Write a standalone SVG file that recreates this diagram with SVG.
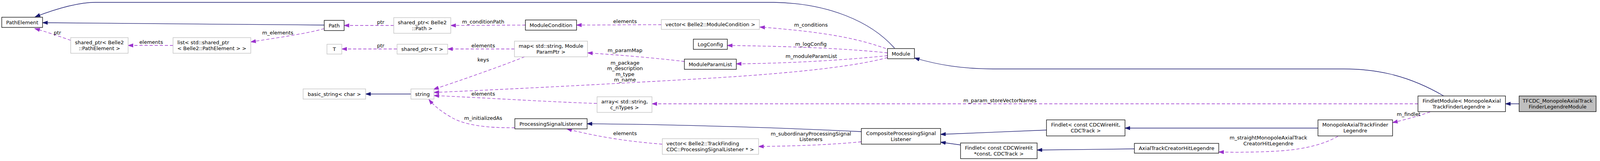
<svg xmlns="http://www.w3.org/2000/svg" width="4163" height="411" viewBox="0 0 4163 411">
<style>
text{font-family:"DejaVu Sans","Liberation Sans",sans-serif;font-size:13px;fill:#000}
.node text{text-anchor:middle}
.node text.l{text-anchor:start}
.b{fill:#fff;stroke:#000;stroke-width:1.3}
.g{fill:#fff;stroke:#bfbfbf;stroke-width:1.3}
.sel{fill:#bfbfbf;stroke:#000;stroke-width:1.3}
.inh{fill:none;stroke:#191970;stroke-width:1.3;marker-end:url(#ab)}
.use{fill:none;stroke:#9a32cd;stroke-width:1.3;stroke-dasharray:8,5;marker-end:url(#ap)}
.lbl{text-anchor:middle}
</style>
<defs>
<marker id="ab" markerUnits="userSpaceOnUse" markerWidth="14" markerHeight="10" viewBox="0 0 14 10" refX="13" refY="5" orient="auto">
<path d="M0,0.5 L13,5 L0,9.5 z" fill="#191970" stroke="#191970" stroke-width="1"/>
</marker>
<marker id="ap" markerUnits="userSpaceOnUse" markerWidth="14" markerHeight="10" viewBox="0 0 14 10" refX="13" refY="5" orient="auto">
<path d="M0,0.5 L13,5 L0,9.5 z" fill="#9a32cd" stroke="#9a32cd" stroke-width="1"/>
</marker>
</defs>
<rect width="4163" height="411" fill="#fff"/>
<g id="edges">
<path class="inh" d="M830,64 C600,63 300,58 109,58"/>
<path class="inh" d="M2290,123 C2230,55 2120,8 1980,6 L245,6 C205,6 150,20 90,43"/>
<path class="use" d="M181,103 C150,92 115,80 89,73"/>
<text class="lbl" x="147" y="87.5">ptr</text>
<path class="use" d="M443,116 L328,116"/>
<text class="lbl" x="387" y="112">elements</text>
<path class="use" d="M830,73 C790,85 700,98 642,107"/>
<text class="lbl" x="711" y="87.5">m_elements</text>
<path class="use" d="M1008,65 L881,65"/>
<text class="lbl" x="974.5" y="61">ptr</text>
<path class="use" d="M1345,64 L1154,65"/>
<text class="lbl" x="1237" y="60">m_conditionPath</text>
<path class="use" d="M1693,63 L1476,64"/>
<text class="lbl" x="1600" y="59">elements</text>
<path class="use" d="M2268,124 C2200,100 2120,82 1945,69"/>
<text class="lbl" x="2076" y="68">m_conditions</text>
<path class="use" d="M2272,135 C2150,122 2000,118 1862,116"/>
<text class="lbl" x="2076" y="116.5">m_logConfig</text>
<path class="use" d="M2272,142 C2150,155 2000,162 1885,163"/>
<text class="lbl" x="2077" y="147.5">m_moduleParamList</text>
<path class="use" d="M1752,157 C1680,148 1580,140 1504,135"/>
<text class="lbl" x="1600" y="132.5">m_paramMap</text>
<path class="use" d="M2272,147 C2180,172 2000,190 1757,203 C1500,218 1250,230 1111,236"/>
<text class="lbl" x="1600" y="164.5">m_package</text>
<text class="lbl" x="1600" y="179">m_description</text>
<text class="lbl" x="1600" y="193.5">m_type</text>
<text class="lbl" x="1600" y="208">m_name</text>
<path class="use" d="M1343,145 C1280,170 1180,205 1110,228"/>
<text class="lbl" x="1237" y="156.5">keys</text>
<path class="use" d="M1528,264 C1400,260 1250,250 1111,244"/>
<text class="lbl" x="1237" y="243.5">elements</text>
<path class="use" d="M1318,326 C1240,327 1190,318 1160,302 C1140,291 1115,275 1098,254"/>
<text class="lbl" x="1237" y="305.5">m_initializedAs</text>
<path class="use" d="M1016,125 L875,125"/>
<text class="lbl" x="974.5" y="121">ptr</text>
<path class="use" d="M1317,125 L1146,125"/>
<text class="lbl" x="1237" y="121">elements</text>
<path class="inh" d="M1052,240 L936,240"/>
<path class="use" d="M3630,265 L1669,265"/>
<text class="lbl" x="2560" y="261">m_param_storeVectorNames</text>
<path class="inh" d="M2205,336 C2100,331 1800,318 1503,316"/>
<path class="use" d="M1695,368 C1620,362 1540,352 1451,329"/>
<text class="lbl" x="1600" y="345">elements</text>
<path class="use" d="M2205,362 C2100,372 2000,373 1942,374"/>
<text class="lbl" x="2076" y="345.5">m_subordinaryProcessingSignal</text>
<text class="lbl" x="2076" y="360">Listeners</text>
<path class="inh" d="M2679,332 L2408,343"/>
<path class="inh" d="M2459,370 L2408,363"/>
<path class="inh" d="M2904,380 L2655,383"/>
<path class="inh" d="M3374,327 L2880,327"/>
<path class="use" d="M3425,348 C3395,365 3350,380 3280,385 C3220,389 3160,389 3120,388"/>
<text class="lbl" x="3247" y="356">m_straightMonopoleAxialTrack</text>
<text class="lbl" x="3247" y="371">CreatorHitLegendre</text>
<path class="use" d="M3661,286 C3630,296 3600,305 3565,313"/>
<text class="lbl" x="3606" y="295.5">m_findlet</text>
<path class="inh" d="M3889,265 L3854,265"/>
<path class="inh" d="M3696,245 C3610,195 3530,176 3440,176 L2546,176 C2460,176 2400,165 2341,148"/>
</g>
<g id="node-PathElement" class="node"><rect class="b" x="4.5" y="44" width="104.5" height="26"/><text x="57" y="61.5">PathElement</text></g>
<g id="node-sharedptr-PathElement" class="node"><rect class="g" x="181" y="96" width="147" height="40"/><text x="254.5" y="112.5">shared_ptr&lt; Belle2</text><text x="254.5" y="127.5">::PathElement &gt;</text></g>
<g id="node-list" class="node"><rect class="g" x="443" y="96" width="199" height="40"/><text class="l" x="454" y="112.5">list&lt; std::shared_ptr</text><text class="l" x="454" y="127.5">&lt; Belle2::PathElement &gt; &gt;</text></g>
<g id="node-Path" class="node"><rect class="b" x="830" y="52" width="51" height="26"/><text x="855.5" y="69.5">Path</text></g>
<g id="node-sharedptr-Path" class="node"><rect class="g" x="1008" y="45" width="146" height="40"/><text x="1081" y="61.5">shared_ptr&lt; Belle2</text><text x="1081" y="76.5">::Path &gt;</text></g>
<g id="node-ModuleCondition" class="node"><rect class="b" x="1345" y="51" width="131" height="26"/><text x="1410.5" y="68.5">ModuleCondition</text></g>
<g id="node-T" class="node"><rect class="g" x="837" y="113" width="38" height="25"/><text x="856" y="130">T</text></g>
<g id="node-sharedptr-T" class="node"><rect class="g" x="1016.5" y="113" width="129.5" height="25"/><text x="1081" y="130">shared_ptr&lt; T &gt;</text></g>
<g id="node-map" class="node"><rect class="g" x="1317" y="105" width="187" height="40"/><text x="1410.5" y="121.5">map&lt; std::string, Module</text><text x="1410.5" y="136.5">ParamPtr &gt;</text></g>
<g id="node-string" class="node"><rect class="g" x="1052" y="227" width="59" height="26"/><text x="1081.5" y="244.5">string</text></g>
<g id="node-basic_string" class="node"><rect class="g" x="776" y="227" width="160" height="26"/><text x="856" y="244.5">basic_string&lt; char &gt;</text></g>
<g id="node-ProcessingSignalListener" class="node"><rect class="b" x="1318" y="303" width="185" height="26"/><text x="1410.5" y="320.5">ProcessingSignalListener</text></g>
<g id="node-vector-ModuleCondition" class="node"><rect class="g" x="1693" y="50" width="251" height="25"/><text x="1818.5" y="67">vector&lt; Belle2::ModuleCondition &gt;</text></g>
<g id="node-LogConfig" class="node"><rect class="b" x="1775" y="100" width="87" height="26"/><text x="1818.5" y="117.5">LogConfig</text></g>
<g id="node-ModuleParamList" class="node"><rect class="b" x="1752" y="151" width="133" height="26"/><text x="1818.5" y="168.5">ModuleParamList</text></g>
<g id="node-array" class="node"><rect class="g" x="1528.5" y="247" width="140.5" height="40"/><text x="1599" y="263.5">array&lt; std::string,</text><text x="1599" y="278.5">c_nTypes &gt;</text></g>
<g id="node-vector-PSL" class="node"><rect class="g" x="1695.5" y="354" width="246.5" height="40"/><text class="l" x="1706" y="370.5">vector&lt; Belle2::TrackFinding</text><text class="l" x="1706" y="385.5">CDC::ProcessingSignalListener * &gt;</text></g>
<g id="node-Module" class="node"><rect class="b" x="2272" y="124" width="69" height="26"/><text x="2306.5" y="141.5">Module</text></g>
<g id="node-CompositeProcessingSignalListener" class="node"><rect class="b" x="2205" y="328" width="203" height="40"/><text x="2306.5" y="344.5">CompositeProcessingSignal</text><text x="2306.5" y="359.5">Listener</text></g>
<g id="node-Findlet1" class="node"><rect class="b" x="2679" y="306" width="201" height="41"/><text x="2779.5" y="323">Findlet&lt; const CDCWireHit,</text><text x="2779.5" y="338">CDCTrack &gt;</text></g>
<g id="node-Findlet2" class="node"><rect class="b" x="2459" y="365" width="196" height="40"/><text x="2557" y="381.5">Findlet&lt; const CDCWireHit</text><text x="2557" y="396.5">*const, CDCTrack &gt;</text></g>
<g id="node-AxialTrackCreatorHitLegendre" class="node"><rect class="b" x="2904" y="366" width="216" height="25"/><text x="3012" y="383">AxialTrackCreatorHitLegendre</text></g>
<g id="node-MonopoleAxialTrackFinderLegendre" class="node"><rect class="b" x="3374" y="306" width="191" height="41"/><text x="3469.5" y="323">MonopoleAxialTrackFinder</text><text x="3469.5" y="338">Legendre</text></g>
<g id="node-FindletModule" class="node"><rect class="b" x="3630" y="245" width="224" height="40"/><text x="3742" y="261.5">FindletModule&lt; MonopoleAxial</text><text x="3742" y="276.5">TrackFinderLegendre &gt;</text></g>
<g id="node-TFCDC" class="node"><rect class="sel" x="3889" y="245" width="197" height="40"/><text x="3987.5" y="261.5">TFCDC_MonopoleAxialTrack</text><text x="3987.5" y="276.5">FinderLegendreModule</text></g>
</svg>
